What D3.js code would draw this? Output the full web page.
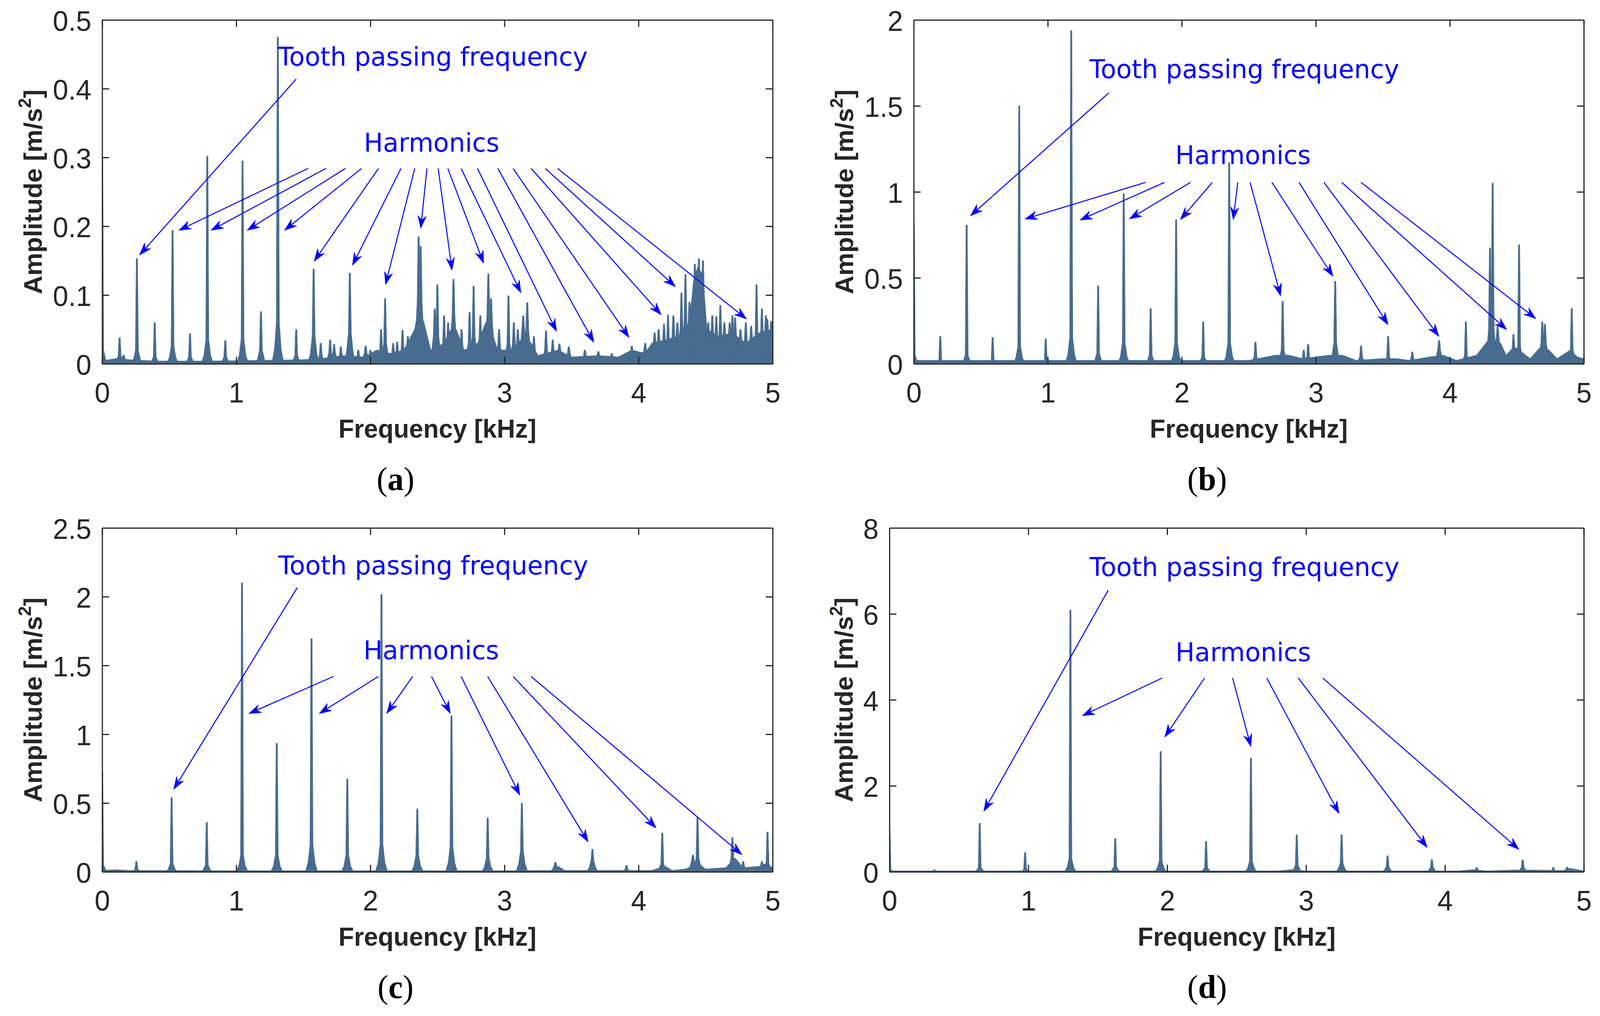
<!DOCTYPE html>
<html><head><meta charset="utf-8">
<script src="https://cdn.jsdelivr.net/npm/d3@7"></script>
<style>html,body{margin:0;padding:0;background:#fff;width:100%;height:100%;overflow:hidden}
svg{display:block;width:100vw;height:100vh}</style>
</head><body>
<svg id="fig" viewBox="0 0 4150 2600" preserveAspectRatio="none" xmlns="http://www.w3.org/2000/svg"></svg>
<script>
// ---------------- DATA ----------------
const xTickValues = [0, 1, 2, 3, 4, 5];
const xTickLabels = ["0", "1", "2", "3", "4", "5"];
const yTicksA = [0, 0.1, 0.2, 0.3, 0.4, 0.5];
const yLabelsA = ["0", "0.1", "0.2", "0.3", "0.4", "0.5"];
const yTicksB = [0, 0.5, 1, 1.5, 2];
const yLabelsB = ["0", "0.5", "1", "1.5", "2"];
const yTicksC = [0, 0.5, 1, 1.5, 2, 2.5];
const yLabelsC = ["0", "0.5", "1", "1.5", "2", "2.5"];
const yTicksD = [0, 2, 4, 6, 8];
const yLabelsD = ["0", "2", "4", "6", "8"];
const captions = ["a", "b", "c", "d"];
const xTitle = "Frequency [kHz]";
const yTitle = "Amplitude [m/s";
const tpfText = "Tooth passing frequency";
const harmText = "Harmonics";

// spectral peaks: [frequency kHz, peak amplitude, skirt amplitude]
const peaksA = [
  [0.0,0.30,0.02],[0.13,0.038,0.012],[0.16,0.013,0.008],[0.259,0.153,0.02],[0.392,0.06,0.01],
  [0.525,0.194,0.025],[0.655,0.044,0.01],[0.784,0.302,0.035],[0.918,0.034,0.01],[1.047,0.295,0.035],
  [1.184,0.076,0.02],[1.31,0.475,0.05],[1.31,0.368,0.06],[1.447,0.05,0.012],[1.577,0.138,0.04],
  [1.63,0.03,0.012],[1.70,0.035,0.015],[1.73,0.028,0.015],[1.78,0.025,0.012],[1.847,0.132,0.045],
  [1.91,0.02,0.01],[1.965,0.026,0.015],[2.00,0.02,0.01],[2.08,0.05,0.02],[2.11,0.095,0.03],
  [2.17,0.03,0.015],[2.20,0.032,0.015],[2.24,0.049,0.02],[2.28,0.04,0.02],[2.36,0.185,0.09],
  [2.375,0.171,0.09],[2.48,0.08,0.04],[2.50,0.115,0.04],[2.55,0.07,0.03],[2.58,0.06,0.03],
  [2.62,0.123,0.07],[2.68,0.05,0.025],[2.74,0.075,0.03],[2.77,0.113,0.04],[2.82,0.07,0.03],
  [2.88,0.131,0.07],[2.90,0.095,0.06],[2.96,0.05,0.025],[3.03,0.099,0.03],[3.07,0.06,0.03],
  [3.10,0.05,0.03],[3.14,0.07,0.05],[3.17,0.089,0.05],[3.22,0.04,0.02],[3.31,0.048,0.02],
  [3.36,0.035,0.018],[3.41,0.029,0.02],[3.48,0.025,0.015],[3.6,0.02,0.012],[3.7,0.018,0.012],
  [3.8,0.015,0.01],[3.95,0.026,0.015],[4.05,0.03,0.02],[4.12,0.045,0.03],[4.15,0.05,0.03],
  [4.19,0.058,0.03],[4.22,0.071,0.03],[4.26,0.07,0.04],[4.29,0.06,0.04],[4.32,0.103,0.05],
  [4.35,0.13,0.06],[4.38,0.09,0.06],[4.42,0.145,0.1],[4.45,0.153,0.1],[4.48,0.15,0.1],
  [4.52,0.06,0.04],[4.55,0.07,0.04],[4.58,0.069,0.04],[4.61,0.085,0.04],[4.64,0.06,0.04],
  [4.68,0.06,0.04],[4.70,0.07,0.04],[4.72,0.067,0.04],[4.76,0.05,0.035],[4.80,0.06,0.035],
  [4.84,0.055,0.035],[4.88,0.115,0.04],[4.92,0.08,0.04],[4.95,0.07,0.045],[4.96,0.065,0.045],
  [4.99,0.062,0.045]
];
const floorA = [
  [0,0.003],[0.05,0.006],[0.12,0.008],[0.2,0.006],[0.4,0.004],[0.8,0.004],[1.2,0.005],[1.5,0.006],
  [1.65,0.008],[1.8,0.012],[1.95,0.01],[2.05,0.02],[2.15,0.015],[2.25,0.02],[2.33,0.05],[2.36,0.08],
  [2.40,0.06],[2.45,0.02],[2.55,0.03],[2.6,0.05],[2.64,0.05],[2.7,0.02],[2.8,0.03],[2.86,0.06],
  [2.9,0.05],[2.95,0.02],[3.05,0.02],[3.15,0.04],[3.2,0.03],[3.25,0.012],[3.4,0.02],[3.5,0.01],
  [3.7,0.012],[3.85,0.01],[3.95,0.02],[4.05,0.015],[4.1,0.03],[4.2,0.035],[4.3,0.04],[4.38,0.06],
  [4.41,0.12],[4.44,0.14],[4.48,0.13],[4.51,0.05],[4.6,0.04],[4.7,0.045],[4.8,0.03],[4.9,0.045],[5.0,0.05]
];
const peaksB = [
  [0.0,0.82,0.05],[0.198,0.16,0.02],[0.395,0.807,0.05],[0.589,0.154,0.02],[0.787,1.50,0.1],
  [0.985,0.145,0.02],[1.175,1.938,0.15],[1.175,1.23,0.15],[1.376,0.454,0.06],[1.567,0.99,0.12],[1.768,0.322,0.05],
  [1.958,0.838,0.12],[2.16,0.244,0.04],[2.354,1.17,0.12],[2.55,0.127,0.04],[2.753,0.364,0.08],
  [2.91,0.08,0.03],[2.943,0.114,0.04],[3.145,0.481,0.12],[3.338,0.105,0.04],[3.54,0.16,0.04],
  [3.72,0.069,0.03],[3.92,0.136,0.08],[4.12,0.244,0.05],[4.30,0.675,0.2],[4.32,1.05,0.2],
  [4.357,0.217,0.15],[4.475,0.172,0.08],[4.517,0.693,0.1],[4.69,0.244,0.12],[4.71,0.23,0.12],
  [4.91,0.322,0.08]
];
const floorB = [
  [0,0.02],[0.5,0.02],[1,0.02],[2,0.02],[2.5,0.02],[2.7,0.05],[2.8,0.05],[2.9,0.03],[3.1,0.05],
  [3.2,0.05],[3.3,0.02],[3.5,0.03],[3.6,0.03],[3.7,0.02],[3.85,0.04],[3.95,0.05],[4.05,0.02],
  [4.2,0.05],[4.3,0.15],[4.38,0.12],[4.42,0.05],[4.48,0.1],[4.55,0.06],[4.6,0.03],[4.68,0.1],
  [4.74,0.08],[4.8,0.03],[4.9,0.08],[4.95,0.04],[5.0,0.03]
];
const peaksC = [
  [0.0,0.73,0.05],[0.255,0.077,0.02],[0.518,0.54,0.06],[0.78,0.36,0.05],[1.043,2.10,0.12],
  [1.302,0.934,0.12],[1.561,1.695,0.2],[1.828,0.676,0.12],[2.083,2.017,0.2],[2.35,0.458,0.12],
  [2.605,1.134,0.18],[2.875,0.392,0.1],[3.13,0.50,0.15],[3.38,0.07,0.04],[3.656,0.164,0.08],
  [3.91,0.047,0.02],[4.177,0.282,0.06],[4.406,0.122,0.08],[4.44,0.40,0.1],[4.70,0.25,0.1],
  [4.78,0.075,0.04],[4.92,0.075,0.04],[4.962,0.289,0.06]
];
const floorC = [
  [0,0.01],[0.1,0.015],[0.2,0.01],[1,0.008],[2,0.008],[3,0.008],[3.35,0.01],[3.4,0.04],[3.45,0.01],
  [4.1,0.01],[4.2,0.04],[4.25,0.01],[4.35,0.02],[4.45,0.06],[4.5,0.02],[4.65,0.03],[4.72,0.1],
  [4.78,0.03],[4.9,0.04],[4.95,0.06],[5.0,0.03]
];
const peaksD = [
  [0.0,1.0,0.05],[0.323,0.05,0.02],[0.65,1.13,0.1],[0.977,0.45,0.06],[1.303,6.09,0.3],
  [1.626,0.78,0.12],[1.953,2.80,0.25],[2.28,0.71,0.1],[2.603,2.645,0.25],[2.933,0.86,0.15],
  [3.256,0.864,0.2],[3.587,0.376,0.12],[3.906,0.285,0.1],[4.229,0.098,0.05],[4.56,0.278,0.1],
  [4.78,0.105,0.02],[4.88,0.11,0.05]
];
const floorD = [[0,0.02],[2.8,0.02],[2.9,0.05],[3.0,0.02],[4.1,0.02],[4.2,0.05],[4.3,0.02],[4.5,0.04],[4.62,0.04],[4.85,0.03],[4.9,0.08],[5.0,0.02]];

// annotation arrows: [startFreq, startAmp, endFreq, endAmp]
const tpfArrowA = [1.447,0.414,0.278,0.158];
const harmArrowsA = [
  [1.535,0.284,0.571,0.194],[1.668,0.284,0.811,0.194],[1.813,0.284,1.081,0.194],[1.934,0.284,1.359,0.194],
  [2.060,0.284,1.580,0.149],[2.228,0.284,1.866,0.143],[2.331,0.284,2.113,0.115],[2.422,0.284,2.376,0.197],
  [2.506,0.284,2.609,0.136],[2.578,0.284,2.845,0.146],[2.677,0.284,3.123,0.103],[2.799,0.284,3.389,0.047],
  [2.951,0.284,3.667,0.031],[3.065,0.284,3.930,0.038],[3.199,0.284,4.170,0.071],[3.305,0.284,4.276,0.112],
  [3.397,0.284,4.806,0.065]
];
const tpfArrowB = [1.456,1.576,0.422,0.86];
const harmArrowsB = [
  [1.730,1.055,0.829,0.842],[1.871,1.055,1.240,0.836],[2.065,1.055,1.608,0.842],[2.228,1.055,1.989,0.838],
  [2.418,1.055,2.384,0.838],[2.510,1.055,2.738,0.394],[2.673,1.055,3.129,0.508],[2.875,1.055,3.540,0.226],
  [3.061,1.055,3.920,0.159],[3.194,1.055,4.426,0.198],[3.338,1.055,4.643,0.262]
];
const tpfArrowC = [1.455,2.066,0.533,0.599];
const harmArrowsC = [
  [1.725,1.42,1.093,1.15],[2.060,1.42,1.618,1.15],[2.315,1.42,2.121,1.15],[2.456,1.42,2.597,1.15],
  [2.677,1.42,3.115,0.556],[2.875,1.42,3.625,0.216],[3.065,1.42,4.132,0.317],[3.199,1.42,4.772,0.124]
];
const tpfArrowD = [1.575,6.55,0.679,1.405];
const harmArrowsD = [
  [1.964,4.508,1.388,3.629],[2.269,4.508,1.982,3.133],[2.471,4.508,2.603,2.908],
  [2.717,4.508,3.238,1.352],[2.944,4.508,3.873,0.563],[3.120,4.508,4.534,0.518]
];
// annotation text anchors [freq, amp]
const tpfAnchor = [[1.311,0.4335],[1.311,1.661],[1.314,2.162],[1.441,6.882]];
const harmAnchor = [[1.952,0.3085],[1.952,1.161],[1.949,1.545],[2.060,4.90]];

// ---------------- LAYOUT / STYLE ----------------
const layout = [
  {left:265, right:2004, top:51, bottom:931, yMax:0.5, yLabelOff:157, capX:1026, capY:1254},
  {left:2370, right:4108, top:51, bottom:931, yMax:2, yLabelOff:157, capX:3131, capY:1254},
  {left:265, right:2004, top:1351, bottom:2231, yMax:2.5, yLabelOff:157, capX:1026, capY:2554},
  {left:2307, right:4108, top:1351, bottom:2231, yMax:8, yLabelOff:95, capX:3131, capY:2554}
];
const panelData = [
  {peaks:peaksA, floor:floorA, yt:yTicksA, yl:yLabelsA, tpf:tpfArrowA, harm:harmArrowsA},
  {peaks:peaksB, floor:floorB, yt:yTicksB, yl:yLabelsB, tpf:tpfArrowB, harm:harmArrowsB},
  {peaks:peaksC, floor:floorC, yt:yTicksC, yl:yLabelsC, tpf:tpfArrowC, harm:harmArrowsC},
  {peaks:peaksD, floor:floorD, yt:yTicksD, yl:yLabelsD, tpf:tpfArrowD, harm:harmArrowsD}
];
const FILL = "#486c8f";
const AXC = "#262626";
const BLUE = "#0000ff";
const SANS = "'Liberation Sans', Arial, Helvetica, sans-serif";
const ANN = "'DejaVu Sans', sans-serif";
const SERIF = "'Liberation Serif', 'Times New Roman', serif";
const TW = 1.8, SW = 4, MW = 9, BW = 16;   // peak shape half-widths (px)
const TICK = 18;

const svg = d3.select("#fig");
svg.append("rect").attr("width",4150).attr("height",2600).attr("fill","#fff");
const defs = svg.append("defs");

panelData.forEach((pd, i) => {
  const L = layout[i];
  const x = d3.scaleLinear().domain([0,5]).range([L.left, L.right]);
  const y = d3.scaleLinear().domain([0, L.yMax]).range([L.bottom, L.top]);
  const g = svg.append("g");

  defs.append("clipPath").attr("id","clip"+i).append("rect")
    .attr("x",L.left).attr("y",L.top).attr("width",L.right-L.left).attr("height",L.bottom-L.top);
  const plot = g.append("g").attr("clip-path","url(#clip"+i+")");

  // floor
  plot.append("path").datum(pd.floor)
    .attr("d", d3.area().x(d=>x(d[0])).y0(y(0)).y1(d=>y(d[1])))
    .attr("fill", FILL).attr("stroke", FILL).attr("stroke-width",1.5);
  // peaks
  const line = d3.line();
  plot.selectAll("path.pk").data(pd.peaks).enter().append("path").attr("class","pk")
    .attr("d", p => {
      const cx = x(p[0]), a = p[1], s = Math.min(p[2], a*0.9);
      return line([[cx-BW,y(0)],[cx-MW,y(s*0.35)],[cx-SW,y(s)],[cx-TW,y(a)],
                   [cx+TW,y(a)],[cx+SW,y(s)],[cx+MW,y(s*0.35)],[cx+BW,y(0)]]) + "Z";
    })
    .attr("fill", FILL).attr("stroke", FILL).attr("stroke-width",1);

  // axes (box with inward ticks)
  const styleAxis = sel => {
    sel.select(".domain").attr("stroke", AXC).attr("stroke-width", 3);
    sel.selectAll(".tick line").attr("stroke", AXC).attr("stroke-width", 3);
  };
  const bottomAx = g.append("g").attr("transform",`translate(0,${L.bottom})`)
    .call(d3.axisBottom(x).tickValues(xTickValues).tickFormat((d,k)=>xTickLabels[k])
      .tickSizeInner(-TICK).tickSizeOuter(0).tickPadding(48));
  styleAxis(bottomAx);
  bottomAx.selectAll(".tick text").attr("font-family",SANS).attr("font-size",72)
    .attr("fill",AXC).attr("dy",null).attr("y",99);
  const topAx = g.append("g").attr("transform",`translate(0,${L.top})`)
    .call(d3.axisTop(x).tickValues(xTickValues).tickFormat("").tickSizeInner(-TICK).tickSizeOuter(0));
  styleAxis(topAx);
  const leftAx = g.append("g").attr("transform",`translate(${L.left},0)`)
    .call(d3.axisLeft(y).tickValues(pd.yt).tickFormat((d,k)=>pd.yl[k])
      .tickSizeInner(-TICK).tickSizeOuter(0).tickPadding(28));
  styleAxis(leftAx);
  leftAx.selectAll(".tick text").attr("font-family",SANS).attr("font-size",72)
    .attr("fill",AXC).attr("dy",null).attr("y",27);
  const rightAx = g.append("g").attr("transform",`translate(${L.right},0)`)
    .call(d3.axisRight(y).tickValues(pd.yt).tickFormat("").tickSizeInner(-TICK).tickSizeOuter(0));
  styleAxis(rightAx);
  [bottomAx,topAx,leftAx,rightAx].forEach(a=>a.attr("font-family",null).attr("font-size",null));

  // axis titles
  g.append("text").attr("x",(L.left+L.right)/2).attr("y",L.bottom+189)
    .attr("text-anchor","middle").attr("font-family",SANS).attr("font-weight","bold")
    .attr("font-size",66).attr("fill",AXC).text(xTitle);
  const yt = g.append("text")
    .attr("transform",`translate(${L.left-L.yLabelOff},${(L.top+L.bottom)/2}) rotate(-90)`)
    .attr("text-anchor","middle").attr("font-family",SANS).attr("font-weight","bold")
    .attr("font-size",66).attr("fill",AXC);
  yt.append("tspan").text(yTitle);
  yt.append("tspan").attr("dy",-28).attr("font-size",46).text("2");
  yt.append("tspan").attr("dy",28).text("]");

  // annotations
  const ann = g.append("g");
  const drawArrow = (a) => {
    const x1 = x(a[0]), y1 = y(a[1]), x2 = x(a[2]), y2 = y(a[3]);
    const ang = Math.atan2(y2-y1, x2-x1);
    const c = Math.cos(ang), s = Math.sin(ang);
    const HL = 32, HW = 11, NOTCH = 22;
    ann.append("line").attr("x1",x1).attr("y1",y1)
      .attr("x2",x2 - c*NOTCH).attr("y2",y2 - s*NOTCH)
      .attr("stroke",BLUE).attr("stroke-width",2.6);
    const pts = [[x2,y2],
      [x2 - c*HL - s*HW, y2 - s*HL + c*HW],
      [x2 - c*NOTCH, y2 - s*NOTCH],
      [x2 - c*HL + s*HW, y2 - s*HL - c*HW]];
    ann.append("path").attr("d", d3.line()(pts)+"Z").attr("fill",BLUE).attr("stroke",BLUE).attr("stroke-width",1);
  };
  drawArrow(pd.tpf);
  pd.harm.forEach(drawArrow);
  ann.append("text").attr("x",x(tpfAnchor[i][0])).attr("y",y(tpfAnchor[i][1]))
    .attr("font-family",ANN).attr("font-size",66).attr("fill",BLUE).text(tpfText);
  ann.append("text").attr("x",x(harmAnchor[i][0])).attr("y",y(harmAnchor[i][1]))
    .attr("font-family",ANN).attr("font-size",66).attr("fill",BLUE).text(harmText);

  // caption
  const cap = g.append("text").attr("x",L.capX).attr("y",L.capY).attr("text-anchor","middle")
    .attr("font-family",SERIF).attr("font-size",84).attr("fill","#000");
  cap.append("tspan").text("(");
  cap.append("tspan").attr("font-weight","bold").text(captions[i]);
  cap.append("tspan").text(")");
});
</script>
</body></html>
